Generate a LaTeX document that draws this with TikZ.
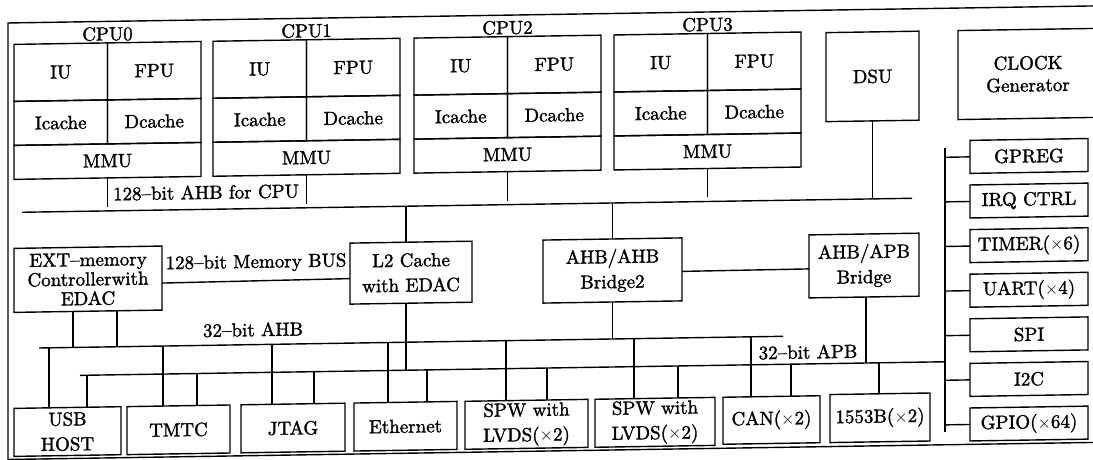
\documentclass[tikz,border=0pt]{standalone}
\usepackage{fontspec}
\newfontfamily\dfam{lmroman10-regular}[Extension=.otf, FakeBold=1.5, Ligatures=TeX]
\newcommand{\dfont}{\dfam\fontsize{19}{25}\selectfont}
\tikzset{
  blk/.style={draw, line width=1.4pt, inner sep=0pt, outer sep=0pt, align=center, font=\dfont, anchor=north west},
  wire/.style={line width=1.4pt},
  lbl/.style={font=\dfont, inner sep=0pt},
}
\begin{document}
\begin{tikzpicture}[x=1pt,y=-1pt]
\useasboundingbox (0,0) rectangle (1093,459);
\begin{scope}[shift={(0,8.6)}, yslant=0.0157, transform shape]
% outer frame
\draw[wire] (1110,14.5) -- (8,14.5) -- (8,451) -- (1110,451);

% CPUs
\foreach \i/\xl in {0/14,1/213,2/414,3/614}{
  \node[blk, minimum width=93.5pt, minimum height=57pt] (iu\i) at (\xl,36) {IU};
  \node[blk, minimum width=93.5pt, minimum height=57pt] (fpu\i) at (\xl+93.5,36) {FPU};
  \node[blk, minimum width=93.5pt, minimum height=44pt] (ic\i) at (\xl,93) {Icache};
  \node[blk, minimum width=93.5pt, minimum height=44pt] (dc\i) at (\xl+93.5,93) {Dcache};
  \node[blk, minimum width=187pt, minimum height=34pt] (mmu\i) at (\xl,137) {MMU};
  \node[lbl] (cpul\i) at (\xl+93.5,27) {CPU\i};
  \coordinate (cb\i) at (\xl+93.5,200);
  \draw[wire] (mmu\i.south) -- (cb\i);
}
\node[lbl] (ahbcpu) at (206,187) {128--bit AHB for CPU};

% DSU and clock
\node[blk, minimum width=93pt, minimum height=89pt] (dsu) at (826,37) {DSU};
\node[blk, minimum width=140pt, minimum height=89pt, font=\dfam\fontsize{19}{22}\selectfont] (clk) at (958,37) {CLOCK\\Generator};

% top CPU bus
\coordinate (tbL) at (22,204);
\coordinate (tbR) at (912,204);
\draw[wire] (tbL) -- (tbR);
\coordinate (dsub) at (872.5,204);
\draw[wire] (dsu.south) -- (dsub);

% middle blocks
\node[blk, minimum width=148pt, minimum height=64pt, font=\dfam\fontsize{19}{19.5}\selectfont] (ext) at (14,240) {EXT--memory\\Controllerwith\\EDAC};
\node[blk, minimum width=122pt, minimum height=61pt] (l2) at (350,240) {L2 Cache\\with EDAC};
\node[blk, minimum width=139pt, minimum height=63pt] (br2) at (543,240) {AHB/AHB\\Bridge2};
\node[blk, minimum width=110pt, minimum height=63pt] (apbbr) at (809,239) {AHB/APB\\Bridge};

\draw[wire] ([yshift=-5pt]ext.east) -- ([yshift=-5pt]l2.west);
\node[lbl] (membus) at (256,258.5) {128--bit Memory BUS};
\draw[wire] ([yshift=-2pt]br2.east) -- ([yshift=-2.5pt]apbbr.west);

\coordinate (l2t) at (406,204);
\draw[wire] (l2t) -- (l2t |- l2.north);
\coordinate (b2t) at (612.5,204);
\draw[wire] (br2.north) -- (b2t);

% lower buses
\coordinate (ahbL) at (39,340);
\coordinate (ahbR) at (783,340);
\draw[wire] (ahbL) -- (ahbR);
\coordinate (apbL) at (80,368);
\coordinate (apbR) at (945,368);
\draw[wire] (apbL) -- (apbR);
\node[lbl] (ahblbl) at (253,325) {32--bit AHB};
\node[lbl] (apblbl) at (808,356) {32--bit APB};

\coordinate (l2b) at (406,368);
\draw[wire] (l2b) -- (l2b |- l2.south);
\coordinate (b2b) at (612.5,340);
\draw[wire] (br2.south) -- (b2b);
\coordinate (apbb) at (866,368);
\draw[wire] (apbb) -- (apbb |- apbbr.south);
\coordinate (e1) at (73,340);
\coordinate (e2) at (117,340);
\draw[wire] (e1) -- (e1 |- ext.south);
\draw[wire] (e2) -- (e2 |- ext.south);

% right column
\coordinate (rvT) at (945,154);
\coordinate (rvB) at (945,438);
\draw[wire] (rvT) -- (rvB);
\foreach \k/\nm/\t in {0/gpreg/GPREG, 1/irq/IRQ CTRL, 2/timer/TIMER($\times$6), 3/uart/UART($\times$4), 4/spi/SPI, 5/itc/I2C, 6/gpio/GPIO($\times$64)}{
  \node[blk, minimum width=118pt, minimum height=33pt] (\nm) at (970,147+44.6*\k) {\t};
  \draw[wire] (\nm.west) -- (\nm.west -| rvT);
}

% bottom peripherals
\node[blk, minimum width=107pt, minimum height=48pt] (usb) at (14,400) {USB\\HOST};
\node[blk, minimum width=103pt, minimum height=48pt] (tmtc) at (127,400) {TMTC};
\node[blk, minimum width=104pt, minimum height=48pt] (jtag) at (241,400) {JTAG};
\node[blk, minimum width=103pt, minimum height=48pt] (eth) at (354,400) {Ethernet};
\node[blk, minimum width=123pt, minimum height=48pt] (spwa) at (465,400) {SPW with\\LVDS($\times$2)};
\node[blk, minimum width=120pt, minimum height=48pt] (spwb) at (595,400) {SPW with\\LVDS($\times$2)};
\node[blk, minimum width=97pt, minimum height=47pt] (can) at (723,400) {CAN($\times$2)};
\node[blk, minimum width=100pt, minimum height=48pt] (mil) at (830,399) {1553B($\times$2)};

\foreach \x/\nm in {49/usb,163/tmtc,272/jtag,388/eth,506/spwa,634/spwb,751/can}{
  \coordinate (ah\nm) at (\x,340);
  \draw[wire] (ah\nm) -- (ah\nm |- \nm.north);
}
\foreach \x/\nm in {87/usb,197/tmtc,314/jtag,427/eth,547/spwa,678/spwb,791/can,879/mil}{
  \coordinate (ap\nm) at (\x,368);
  \draw[wire] (ap\nm) -- (ap\nm |- \nm.north);
}
\end{scope}
\end{tikzpicture}
\end{document}
